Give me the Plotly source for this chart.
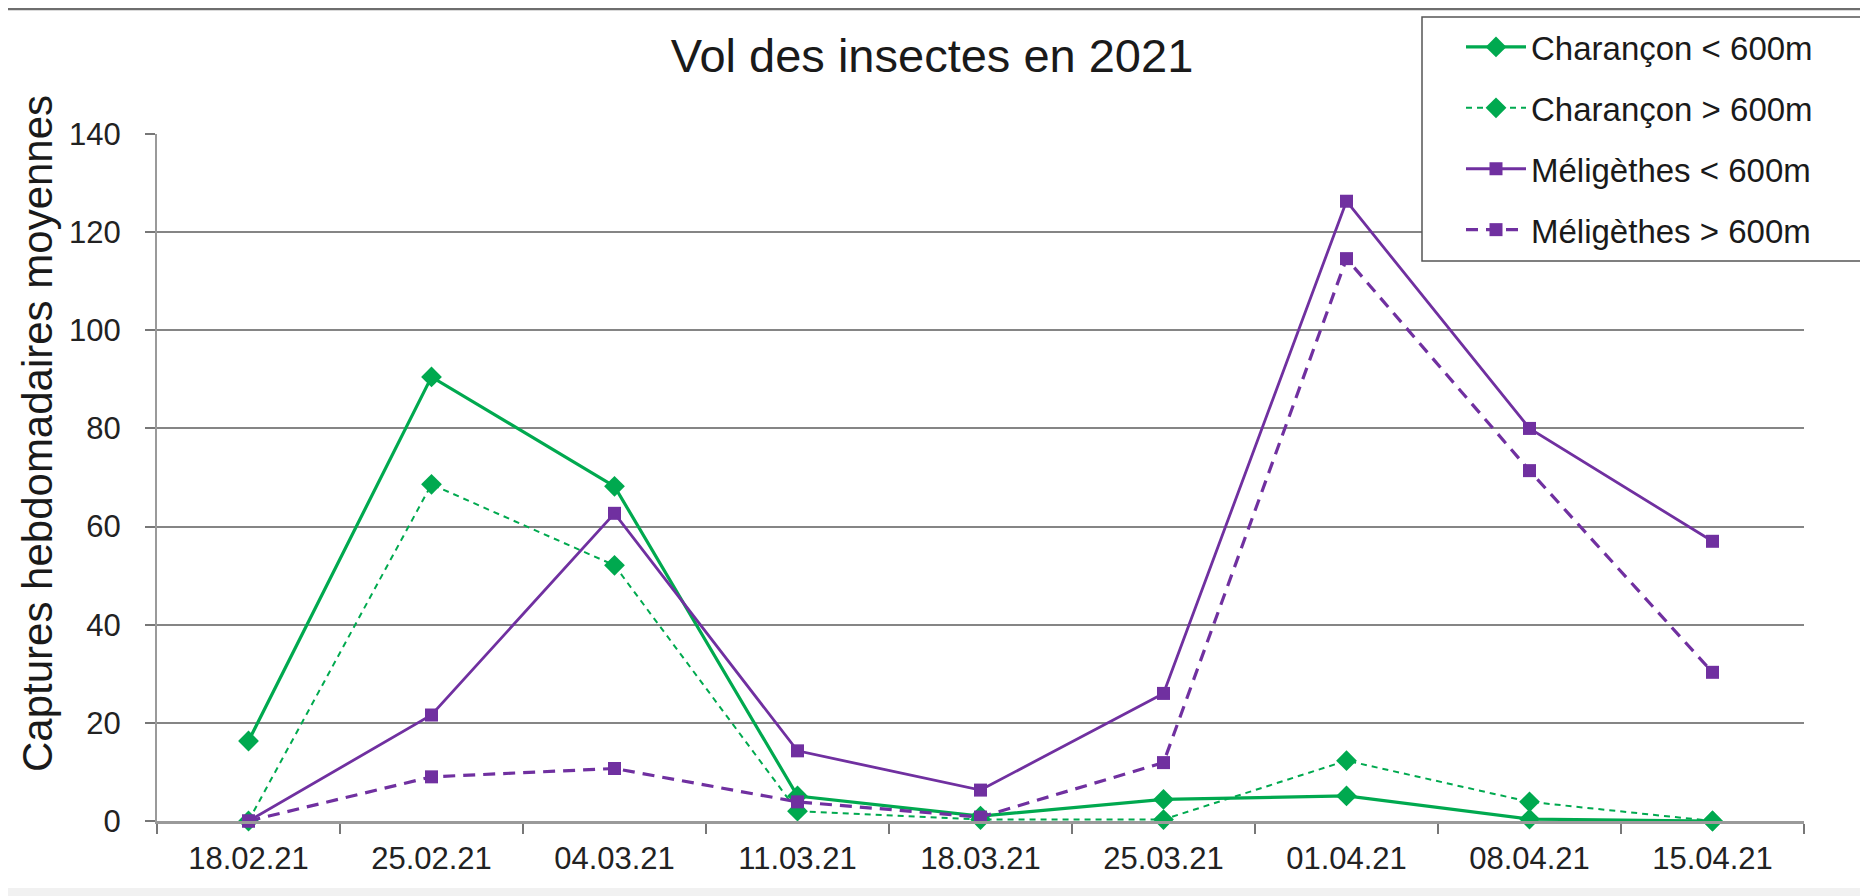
import plotly.graph_objects as go

# Weekly sampling dates
dates = ["18.02.21", "25.02.21", "04.03.21", "11.03.21", "18.03.21",
         "25.03.21", "01.04.21", "08.04.21", "15.04.21"]

# Mean weekly captures per series
charancon_bas = [16.3, 90.5, 68.2, 5.1, 1.0, 4.4, 5.1, 0.4, 0.0]
charancon_haut = [0.0, 68.6, 52.1, 2.0, 0.3, 0.3, 12.3, 3.9, 0.0]
meligethes_bas = [0.0, 21.6, 62.7, 14.3, 6.3, 26.0, 126.3, 80.0, 57.0]
meligethes_haut = [0.0, 9.0, 10.7, 3.9, 0.8, 11.9, 114.6, 71.4, 30.3]

names = ["Charançon < 600m", "Charançon > 600m",
         "Méligèthes < 600m", "Méligèthes > 600m"]

GREEN = "#00A94F"
PURPLE = "#7030A0"
FONT = "Liberation Sans, Arial, sans-serif"

# the page body adds an 8px margin, so the figure is sized to fit the window
OFF = 8
W, H = 1868 - OFF, 896 - OFF
# plot area in screen pixels
X0, X1, Y0, Y1 = 157, 1804, 134, 821
L, R, T, B = X0 - OFF, W - (X1 - OFF), Y0 - OFF, H - (Y1 - OFF)

fig = go.Figure()

styles = [
    (charancon_bas, GREEN, 3.2, "solid", "diamond", 16),
    (charancon_haut, GREEN, 2, "6px,5px", "diamond", 16),
    (meligethes_bas, PURPLE, 2.8, "solid", "square", 13),
    (meligethes_haut, PURPLE, 3.2, "12px,8px", "square", 13),
]
for name, (vals, col, lw, dash, sym, ms) in zip(names, styles):
    fig.add_trace(go.Scatter(
        x=dates, y=vals, name=name, legendgroup=name,
        mode="lines+markers", cliponaxis=False,
        line=dict(color=col, width=lw, dash=dash),
        marker=dict(symbol=sym, size=ms, color=col),
    ))

pw = W - L - R
ph = H - T - B


def px_x(x):
    # screen x -> paper x
    return (x - OFF - L) / pw


def px_y(y):
    # screen y -> paper y
    return (H - B - (y - OFF)) / ph


fig.update_layout(
    width=W, height=H,
    margin=dict(l=L, r=R, t=T, b=B, autoexpand=False),
    paper_bgcolor="white",
    plot_bgcolor="white",
    font=dict(family=FONT, color="#222222"),
    title=dict(
        text="Vol des insectes en 2021",
        font=dict(size=47, color="#1a1a1a"),
        xref="container", x=(932 - OFF) / W, xanchor="center",
        yref="container", y=1 - (56 - OFF) / H, yanchor="middle",
    ),
    showlegend=True,
    legend=dict(
        xref="container", x=(1461 - OFF) / W, xanchor="left",
        yref="container", y=1 - (19 - OFF) / H, yanchor="top",
        bgcolor="rgba(0,0,0,0)", borderwidth=0,
        font=dict(size=33, color="#1a1a1a"),
        itemwidth=60,
        traceorder="grouped", tracegroupgap=15,
    ),
    xaxis=dict(
        type="category",
        range=[-0.5, 8.5],
        showgrid=False,
        showline=True, linecolor="#9a9a9a", linewidth=2.5,
        ticks="outside", tickson="boundaries", ticklen=10,
        tickcolor="#777777", tickwidth=1.5,
        tickfont=dict(size=31, color="#222222"),
        ticklabelstandoff=8,
        zeroline=False,
    ),
    yaxis=dict(
        range=[0, 140],
        tickvals=[0, 20, 40, 60, 80, 100, 120, 140],
        showgrid=True, gridcolor="#858585", gridwidth=1.5,
        showline=True, linecolor="#9a9a9a", linewidth=2,
        ticks="outside", ticklen=10, tickcolor="#777777", tickwidth=1.5,
        tickfont=dict(size=31, color="#222222"),
        ticklabelstandoff=18,
        zeroline=False,
    ),
    annotations=[dict(
        text="Captures hebdomadaires moyennes",
        textangle=-90,
        xref="paper", yref="paper",
        x=px_x(37), y=px_y(434),
        xanchor="center", yanchor="middle",
        showarrow=False,
        font=dict(size=42, color="#1a1a1a"),
    )],
    shapes=[
        # outer frame: top rule and light bottom band
        dict(type="line", xref="paper", yref="paper",
             x0=px_x(0), x1=px_x(1868), y0=px_y(9), y1=px_y(9),
             line=dict(color="#6e6e6e", width=2.5)),
        dict(type="rect", xref="paper", yref="paper",
             x0=px_x(0), x1=px_x(1868), y0=px_y(888), y1=px_y(896),
             fillcolor="#f1f1f1", line=dict(width=0), layer="below"),
        # legend box
        dict(type="rect", xref="paper", yref="paper", layer="above",
             x0=px_x(1422), x1=px_x(1865), y0=px_y(17), y1=px_y(261),
             fillcolor="white", line=dict(color="#555555", width=1.5)),
    ],
)

fig.write_html("out.html")
